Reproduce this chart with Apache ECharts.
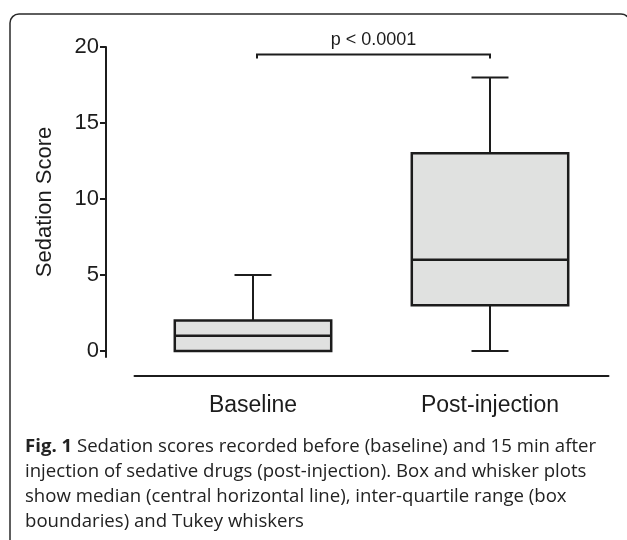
<!DOCTYPE html>
<html>
<head>
<meta charset="utf-8">
<script src="https://cdn.jsdelivr.net/npm/echarts@6/dist/echarts.min.js"></script>
<style>
  html, body { margin: 0; padding: 0; background: #fff; }
  #main { width: 627px; height: 540px; }
</style>
</head>
<body>
<div id="main"></div>
<script>
var categories = ['Baseline', 'Post-injection'];
var whiskerLow = [0, 0];
var q1 = [0, 3];
var median = [1, 6];
var q3 = [2, 13];
var whiskerHigh = [5, 18];
var yTicks = [0, 5, 10, 15, 20];
var pText = 'p < 0.0001';
var bracketLevel = 19.5;
var captionLines = [
    '{b|Fig. 1} Sedation scores recorded before (baseline) and 15 min after',
    'injection of sedative drugs (post-injection). Box and whisker plots',
    'show median (central horizontal line), inter-quartile range (box',
    'boundaries) and Tukey whiskers'
];

var ink = '#1c1c1c';
var chartFont = 'Liberation Sans';

var myChart = echarts.init(document.getElementById('main'));

var boxData = categories.map(function (c, i) {
    return [i, whiskerLow[i], q1[i], median[i], q3[i], whiskerHigh[i]];
});

function renderBox(params, api) {
    var i = api.value(0);
    var band = api.size([1, 0])[0];
    var half = band * 0.33;
    var capHalf = band * 0.078;
    var lo = api.coord([i, api.value(1)]);
    var b1 = api.coord([i, api.value(2)]);
    var md = api.coord([i, api.value(3)]);
    var b3 = api.coord([i, api.value(4)]);
    var hi = api.coord([i, api.value(5)]);
    var cx = lo[0];
    var line = { stroke: ink, lineWidth: 2 };
    return {
        type: 'group',
        children: [
            { type: 'line', shape: { x1: cx, y1: hi[1], x2: cx, y2: b3[1] }, style: line },
            { type: 'line', shape: { x1: cx - capHalf, y1: hi[1], x2: cx + capHalf, y2: hi[1] }, style: line },
            { type: 'line', shape: { x1: cx, y1: lo[1], x2: cx, y2: b1[1] }, style: line },
            { type: 'line', shape: { x1: cx - capHalf, y1: lo[1], x2: cx + capHalf, y2: lo[1] }, style: line },
            {
                type: 'rect',
                shape: { x: cx - half, y: b3[1], width: half * 2, height: b1[1] - b3[1] },
                style: { fill: '#e0e1e0', stroke: ink, lineWidth: 2.5 }
            },
            { type: 'line', shape: { x1: cx - half, y1: md[1], x2: cx + half, y2: md[1] }, style: { stroke: ink, lineWidth: 2.5 } }
        ]
    };
}

function renderBracket(params, api) {
    var a = api.coord([api.value(0), api.value(2)]);
    var b = api.coord([api.value(1), api.value(2)]);
    var left = a[0] + 4;
    return {
        type: 'group',
        children: [
            {
                type: 'polyline',
                shape: { points: [[left, a[1] + 4], [left, a[1]], [b[0], b[1]], [b[0], b[1] + 4]] },
                style: { stroke: ink, lineWidth: 2, fill: null }
            },
            {
                type: 'text',
                style: {
                    text: pText, x: (left + b[0]) / 2, y: a[1] - 15,
                    align: 'center', verticalAlign: 'middle',
                    fontSize: 18, fontFamily: chartFont, fill: ink
                }
            }
        ]
    };
}

var graphics = [{
    type: 'rect',
    shape: { x: 10, y: 14, width: 620, height: 580, r: 9 },
    style: { fill: null, stroke: '#2a2a2a', lineWidth: 1.5 },
    silent: true
}];
captionLines.forEach(function (t, k) {
    graphics.push({
        type: 'text',
        left: 25,
        top: 437 + k * 25,
        style: {
            text: t,
            fontSize: 18.6,
            fontFamily: 'Open Sans',
            fill: '#222',
            rich: { b: { fontWeight: 'bold', fontSize: 18.6, fontFamily: 'Open Sans', fill: '#222' } }
        }
    });
});

var option = {
    animation: false,
    grid: { left: 134.5, right: 18.5, top: 47, bottom: 183 },
    xAxis: {
        type: 'category',
        data: categories,
        offset: 19,
        axisLine: { onZero: false, lineStyle: { color: ink, width: 2 } },
        axisTick: { show: false },
        axisLabel: { fontSize: 23, fontFamily: chartFont, color: ink, margin: 18 }
    },
    yAxis: {
        type: 'value',
        min: -0.4,
        max: 20,
        offset: 28.5,
        name: 'Sedation Score',
        nameLocation: 'middle',
        nameGap: 50,
        nameTextStyle: { fontSize: 22, fontFamily: chartFont, color: ink },
        splitLine: { show: false },
        axisLine: { show: true, lineStyle: { color: ink, width: 2 } },
        axisTick: { show: true, length: 6, lineStyle: { width: 2 }, customValues: yTicks },
        axisLabel: { fontSize: 22, fontFamily: chartFont, color: ink, margin: 7, customValues: yTicks }
    },
    graphic: graphics,
    series: [{
        type: 'custom',
        renderItem: renderBox,
        encode: { x: 0, y: [1, 2, 3, 4, 5] },
        data: boxData
    }, {
        type: 'custom',
        renderItem: renderBracket,
        encode: { x: [0, 1], y: 2 },
        data: [[0, 1, bracketLevel]]
    }]
};
myChart.setOption(option);
</script>
</body>
</html>
